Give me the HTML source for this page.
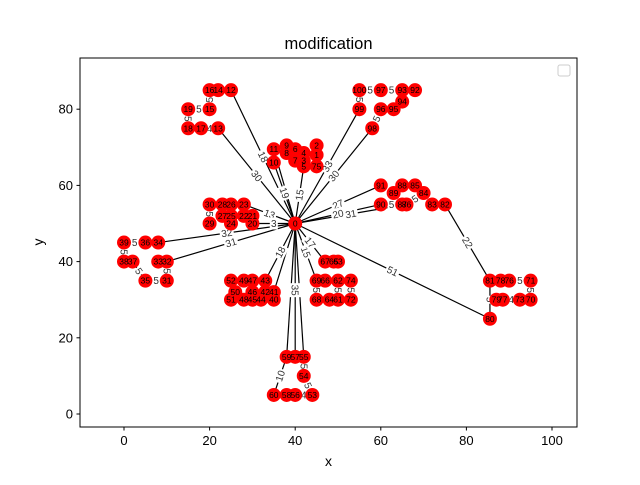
<!DOCTYPE html>
<html><head><meta charset="utf-8"><style>
body{margin:0;background:#fff;}
svg{font-family:"Liberation Sans","DejaVu Sans",sans-serif;}
</style></head><body>
<svg id="chart" width="640" height="480" xmlns="http://www.w3.org/2000/svg">
<rect x="0" y="0" width="640" height="480" fill="#fff"/>
<text x="328.5" y="49" font-size="16.5" text-anchor="middle">modification</text>
<g id="edges"></g>
<g id="nodes"></g>
<rect x="80" y="58" width="497" height="369" fill="none" stroke="#000" stroke-width="1"/>
<g id="axes"></g>
<rect x="558" y="65" width="12" height="11" rx="2" fill="#fff" stroke="#ccc"/>
<text x="328.5" y="466" font-size="14" text-anchor="middle">x</text>
<text x="43" y="242" font-size="14" text-anchor="middle" transform="rotate(-90 43 242)">y</text>
</svg>
<script>
const xTicks=[0,20,40,60,80,100];
const yTicks=[0,20,40,60,80];
const nodeIds=[0,1,2,3,4,5,6,7,8,9,10,11,75,12,13,14,15,16,17,18,19,20,21,22,23,24,25,26,27,28,29,30,31,32,33,34,35,36,37,38,39,40,41,42,43,44,45,46,47,48,49,50,51,52,53,54,55,56,57,58,59,60,61,62,63,64,65,66,67,68,69,72,74,70,71,73,76,77,78,79,80,81,82,83,84,85,86,87,88,89,90,91,92,93,94,95,96,97,98,99,100];
const nodeX=[40,45,45,42,42,42,40,40,38,38,35,35,45,25,22,22,20,20,18,15,15,30,30,28,28,25,25,25,23,23,20,20,10,10,8,8,5,5,2,0,0,35,35,33,33,32,30,30,30,28,28,26,25,25,44,42,42,40,40,38,38,35,50,50,50,48,49,47,47,45,45,53,53,95,95,92.5,90,88.5,88,87,85.5,85.5,75,72,70,68,66,65,65,63,60,60,68,65,65,63,60,60,58,55,55];
const nodeY=[50,68,70.5,66.5,68.5,65,69.5,66.5,68.5,70.5,66,69.5,65,85,75,85,80,85,75,75,80,50,52,52,55,50,52,55,52,55,50,55,35,40,40,45,35,45,40,40,45,30,32,32,35,30,30,32,35,30,35,32,30,35,5,10,15,5,15,5,15,5,30,35,40,30,40,35,40,30,35,30,35,30,35,30,35,30,35,30,25,35,55,55,58,60,55,55,60,58,55,60,85,85,82,80,80,85,75,80,85];
const edgeFrom=[0,0,0,0,0,0,0,0,0,0,0,0,0,0,0,0,0,0,0,0,0,0,82,19,15,19,17,39,39,37,35,32,30,100,97,100,94,96,90,84,59,55,54,56,76,71,77,81,62,69,74,26,22,9,2,13];
const edgeTo=[12,13,10,11,5,99,98,91,90,23,20,34,32,43,41,57,55,59,69,67,80,86,81,15,16,18,13,36,38,35,31,31,29,97,93,99,95,98,87,86,60,54,53,53,71,70,73,80,61,68,72,28,21,8,1,17];
const edgeLabels=["18","30","19","","15","33","30","27","20","13","3","32","31","18","","35","","","15","17","51","31","22","5","5","5","4","5","5","5","5","5","5","5","5","5","5","5","5","5","10","5","5","4","5","5","4","5","5","5","5","","","","",""];
const X0=124,XS=4.28,Y0=414,YS=3.81;
const sx=v=>X0+v*XS, sy=v=>Y0-v*YS;
const NS="http://www.w3.org/2000/svg";
function mk(t,a){const e=document.createElementNS(NS,t);for(const k in a)e.setAttribute(k,a[k]);return e;}
const pos={};nodeIds.forEach((id,i)=>pos[id]=[sx(nodeX[i]),sy(nodeY[i])]);
const eg=document.getElementById('edges');
edgeFrom.forEach((a,i)=>{const p=pos[a],q=pos[edgeTo[i]];
 const l=mk('line',{x1:p[0],y1:p[1],x2:q[0],y2:q[1],stroke:'#000','stroke-width':1.2});
 
 
 eg.appendChild(l);
});
edgeFrom.forEach((a,i)=>{if(!edgeLabels[i])return;const p=pos[a],q=pos[edgeTo[i]];
 const mx=(p[0]+q[0])/2,my=(p[1]+q[1])/2;let ang=Math.atan2(q[1]-p[1],q[0]-p[0])*180/Math.PI;
 if(ang>90)ang-=180;if(ang<-90)ang+=180;
 const g=mk('g',{transform:`translate(${mx},${my}) rotate(${ang})`});
 
 
 const w=edgeLabels[i].length*6+2;
 g.appendChild(mk('rect',{x:-w/2,y:-6,width:w,height:12,fill:'#fff'}));
 const t=mk('text',{x:0,y:3.5,'font-size':10,'text-anchor':'middle',fill:'#333'});t.textContent=edgeLabels[i];g.appendChild(t);
 eg.appendChild(g);
});
const ng=document.getElementById('nodes');
nodeIds.forEach((id,i)=>{const c=mk('circle',{cx:pos[id][0],cy:pos[id][1],r:7,fill:'#ff0000'});
 
 
 ng.appendChild(c);});
nodeIds.forEach((id,i)=>{const t=mk('text',{x:pos[id][0],y:pos[id][1]+3,'font-size':8.5,'text-anchor':'middle',fill:'#000'});
 t.textContent=id;
 
 
 ng.appendChild(t);});
const ax=document.getElementById('axes');
xTicks.forEach(v=>{const x=sx(v);ax.appendChild(mk('line',{x1:x,y1:427,x2:x,y2:430.5,stroke:'#000'}));
 const t=mk('text',{x:x,y:445,'font-size':13,'text-anchor':'middle'});t.textContent=v;
 
 
 ax.appendChild(t);});
yTicks.forEach(v=>{const y=sy(v);ax.appendChild(mk('line',{x1:76.5,y1:y,x2:80,y2:y,stroke:'#000'}));
 const t=mk('text',{x:73,y:y+4.5,'font-size':13,'text-anchor':'end'});t.textContent=v;
 
 
 ax.appendChild(t);});
</script>
</body></html>
